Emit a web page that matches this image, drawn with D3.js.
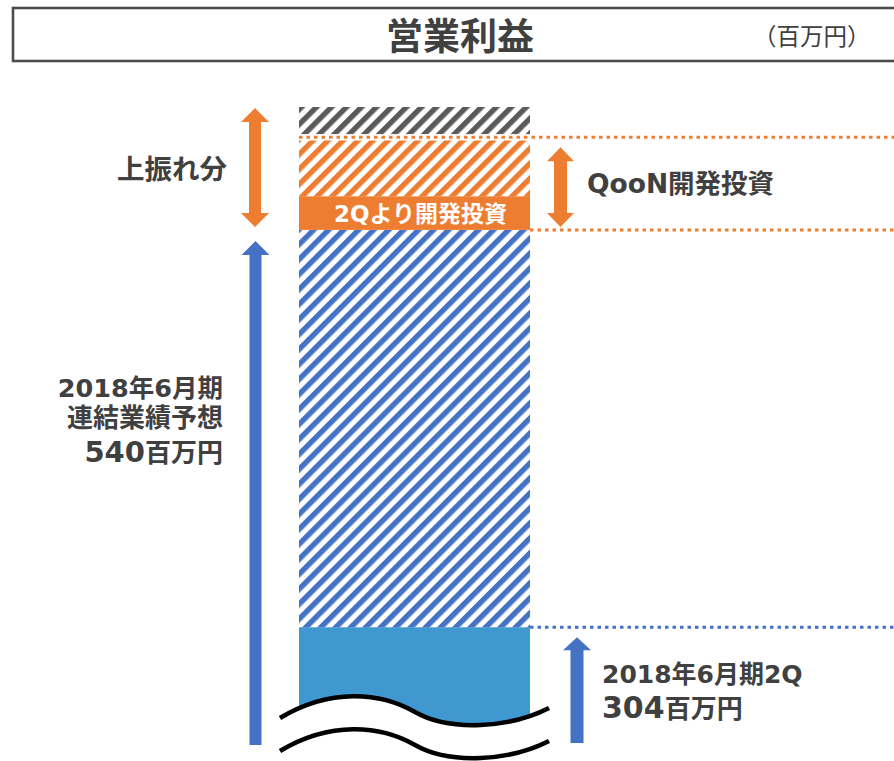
<!DOCTYPE html>
<html><head><meta charset="utf-8">
<script src="https://cdn.jsdelivr.net/npm/d3@7"></script>
<style>html,body{margin:0;padding:0;background:#fff;}svg{display:block;}</style>
</head><body>
<svg id="chart" width="894" height="761"></svg>
<script>
// ---- data ----
const categories = ["営業利益"];
const segmentNames = ["2Q実績", "2Q以降予想", "2Qより開発投資", "QooN開発投資", "上振れ分"];
const segmentValues = [304, 236, 20, 35, 18];   // stacked increments (百万円)
const visibleDomain = [234, 613];               // broken axis: visible value range
const q2Value = 304;
const forecastValue = 540;
const titleText = "営業利益";
const unitText = "（百万円）";
const leftLabelLines = ["2018年6月期", "連結業績予想"];
const leftValueLabel = ["540", "百万円"];
const rightLabelLine = "2018年6月期2Q";
const rightValueLabel = ["304", "百万円"];
const upsideLabel = "上振れ分";
const qoonLabel = "QooN開発投資";
const bandLabel = "2Qより開発投資";

// ---- setup ----
const svg = d3.select("#chart");
const ORANGE = "#ED7D31", BLUE = "#4472C4", FILLBLUE = "#3F98CF", GRAY = "#5A5A5A", TXT = "#404040";
const FONT = "'DejaVu Sans','Noto Sans CJK JP',sans-serif";
const CJK = "'Noto Sans CJK JP',sans-serif";

const x = d3.scaleBand().domain(categories).range([299, 530]).padding(0);
const y = d3.scaleLinear().domain(visibleDomain).range([745, 107]);

// stacked segments
let acc = 0;
const segs = segmentValues.map((v, i) => {
  const s = { name: segmentNames[i], y0: acc, y1: acc + v, i };
  acc += v; return s;
});
const segStyle = ["solid", "hatchBlue", "orangeSolid", "hatchOrange", "hatchGray"];

// patterns
const defs = svg.append("defs");
function hatch(id, color) {
  const p = defs.append("pattern").attr("id", id).attr("patternUnits", "userSpaceOnUse")
    .attr("width", 10.6).attr("height", 10.6).attr("patternTransform", "rotate(45)");
  p.append("rect").attr("width", 10.6).attr("height", 10.6).attr("fill", "#fff");
  p.append("rect").attr("width", 5.4).attr("height", 10.6).attr("fill", color);
}
hatch("hatchBlue", BLUE); hatch("hatchOrange", ORANGE); hatch("hatchGray", GRAY);

// title box
svg.append("rect").attr("x", 13).attr("y", 8).attr("width", 900).attr("height", 53)
  .attr("fill", "none").attr("stroke", "#4d4d4d").attr("stroke-width", 2.6);
svg.append("text").attr("x", 460).attr("y", 50).attr("text-anchor", "middle")
  .attr("font-family", CJK).attr("font-weight", "bold").attr("font-size", 37)
  .attr("fill", TXT).text(titleText);
svg.append("text").attr("x", 753).attr("y", 45)
  .attr("font-family", CJK).attr("font-size", 23.5).attr("fill", TXT).text(unitText);

// bars
const bx = x(categories[0]), bw = x.bandwidth();
const gBar = svg.append("g");
segs.forEach(s => {
  const st = segStyle[s.i];
  let top = y(Math.min(s.y1, visibleDomain[1])), bot = y(Math.max(s.y0, visibleDomain[0]));
  if (st === "hatchGray") bot -= 3;
  if (st === "hatchOrange") top += 3;
  const fill = st === "solid" ? FILLBLUE : st === "orangeSolid" ? ORANGE : `url(#${st})`;
  gBar.append("rect").attr("x", bx).attr("y", top).attr("width", bw).attr("height", bot - top).attr("fill", fill);
});

// band label
const bandSeg = segs[2];
svg.append("text").attr("x", bx + bw / 2 + 6).attr("y", (y(bandSeg.y0) + y(bandSeg.y1)) / 2 + 8.5)
  .attr("text-anchor", "middle").attr("font-family", FONT).attr("font-weight", "bold")
  .attr("font-size", 23).attr("fill", "#fff").text(bandLabel);

// break marks (wavy lines)
const breakY = y(visibleDomain[0]);
const wx0 = bx - 19, wx1 = bx + bw + 19;
function wave(off) {
  const b = breakY - 27 + off;
  return `M${wx0},${b} C${wx0 + 50},${b - 30} ${wx0 + 100},${b - 26} ${wx0 + 135},${b - 6} C${wx0 + 170},${b + 14} ${wx0 + 230},${b + 10} ${wx1},${b - 10}`;
}
svg.append("path").attr("d", wave(0) + ` L${wx1},761 L${wx0},761 Z`).attr("fill", "#fff");
[0, 33].forEach(off => svg.append("path").attr("d", wave(off)).attr("fill", "none")
  .attr("stroke", "#000").attr("stroke-width", 4.5));

// dotted guide lines
const qoonTop = segs[3].y1;
function dotted(val, x0, color) {
  svg.append("line").attr("x1", x0).attr("x2", 894).attr("y1", y(val)).attr("y2", y(val))
    .attr("stroke", color).attr("stroke-width", 3).attr("stroke-dasharray", "3.5,4");
}
svg.append("rect").attr("x", bx).attr("y", y(qoonTop) - 3).attr("width", bw).attr("height", 6).attr("fill", "#fff");
dotted(qoonTop, bx, ORANGE);
dotted(forecastValue, bx + bw, ORANGE);
dotted(q2Value, bx + bw, BLUE);

// arrows
function arrow(cx, yTop, yBot, color, dbl, shaftW = 12, headW = 28, headH = 14) {
  const sw = shaftW / 2, hw = headW / 2;
  let p = `M${cx},${yTop} L${cx + hw},${yTop + headH} L${cx + sw},${yTop + headH} `;
  if (dbl) {
    p += `L${cx + sw},${yBot - headH} L${cx + hw},${yBot - headH} L${cx},${yBot} L${cx - hw},${yBot - headH} L${cx - sw},${yBot - headH} `;
  } else {
    p += `L${cx + sw},${yBot} L${cx - sw},${yBot} `;
  }
  p += `L${cx - sw},${yTop + headH} L${cx - hw},${yTop + headH} Z`;
  svg.append("path").attr("d", p).attr("fill", color);
}
arrow(255, y(visibleDomain[1]) + 1, y(forecastValue) - 3, ORANGE, true);
arrow(255.5, y(forecastValue) + 11, breakY, BLUE, false);
arrow(560.5, y(qoonTop) + 10, y(forecastValue) - 3, ORANGE, true, 13, 27, 14);
arrow(577, y(q2Value) + 10, breakY - 2, BLUE, false, 13, 28, 13);

// labels
function label(xp, yp, parts, anchor) {
  const t = svg.append("text").attr("x", xp).attr("y", yp).attr("text-anchor", anchor)
    .attr("font-family", FONT).attr("font-weight", "bold").attr("fill", TXT);
  parts.forEach(([s, fs]) => t.append("tspan").attr("font-size", fs).text(s));
}
label(227, 179, [[upsideLabel, 27.5]], "end");
label(587, 193, [[qoonLabel, 26.5]], "start");
label(223, 397, [[leftLabelLines[0], 25.5]], "end");
label(223, 427, [[leftLabelLines[1], 26]], "end");
label(223, 462, [[leftValueLabel[0], 29], [leftValueLabel[1], 26]], "end");
label(602, 683, [[rightLabelLine, 25]], "start");
label(602, 718, [[rightValueLabel[0], 30], [rightValueLabel[1], 26]], "start");
</script>
</body></html>
